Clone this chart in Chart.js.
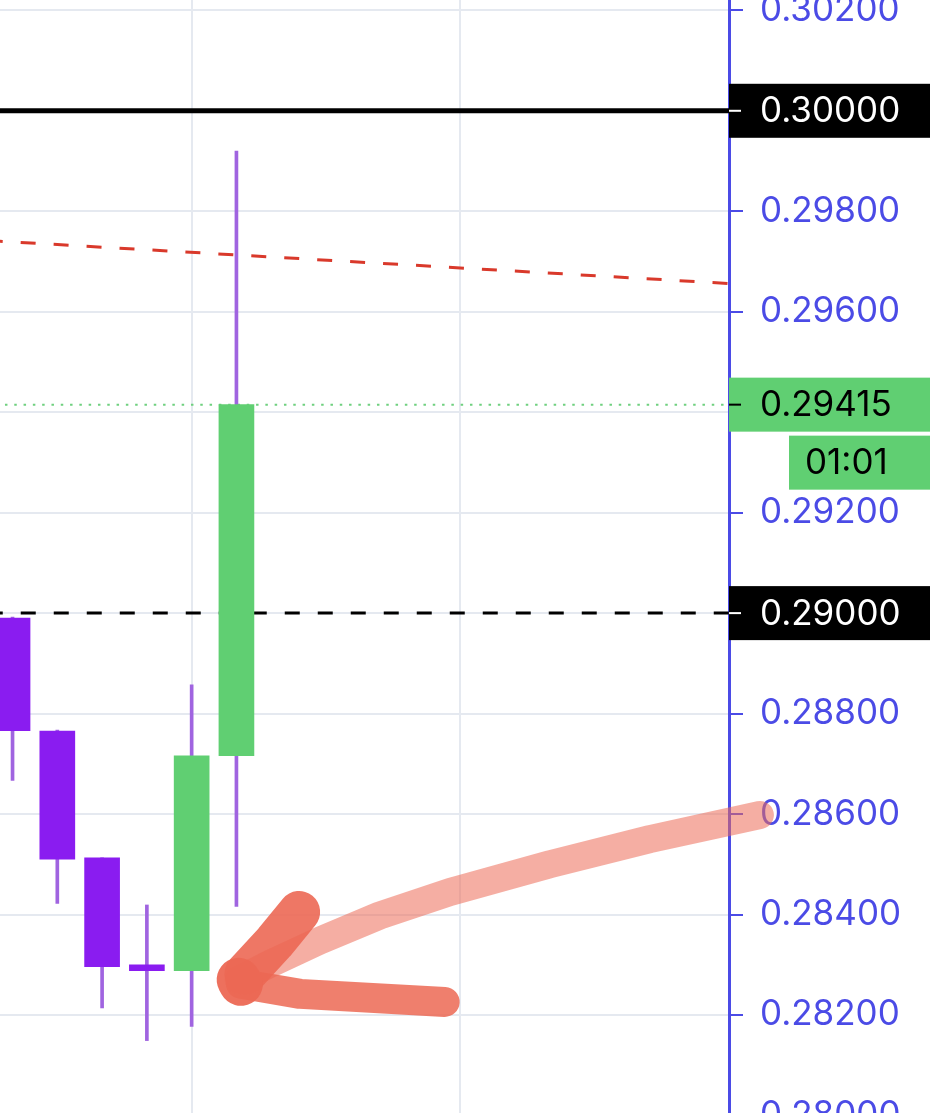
<!DOCTYPE html>
<html>
<head>
<meta charset="utf-8">
<script src="https://cdn.jsdelivr.net/npm/chart.js@4.4.0/dist/chart.umd.min.js"></script>
<style>
  html, body { margin: 0; padding: 0; background: #fff; overflow: hidden; }
  #wrap { position: absolute; left: 0; top: -60px; width: 933px; height: 1296px; }
</style>
</head>
<body>
<div id="wrap"><canvas id="chart" width="933" height="1296"></canvas></div>
<script>
// candles (index along the time axis)
const candleX = [0, 1, 2, 3, 4, 5];
const opens  = [0.28990, 0.28765, 0.28513, 0.28300, 0.28288, 0.28716];
const highs  = [0.28992, 0.28767, 0.28513, 0.28419, 0.28857, 0.29920];
const lows   = [0.28667, 0.28422, 0.28214, 0.28149, 0.28177, 0.28416];
const closes = [0.28766, 0.28510, 0.28296, 0.28288, 0.28716, 0.29415];

// drawn levels
const resistance = 0.30000;
const support = 0.29000;
const lastPrice = 0.29415;
const countdown = "01:01";
const trendX = [-1, 17];
const trendY = [0.29744, 0.29651];
const lineSpan = [-1, 17];

// hand drawn arrow, in (index, price)
const arrowShaft = [[16.69, 0.28598], [14.23, 0.28550], [12.0, 0.28500], [9.77, 0.28445],
                    [8.2, 0.28398], [6.86, 0.28348], [5.75, 0.28302], [5.05, 0.28270]];
const arrowUpper = [[6.4, 0.28405], [5.85, 0.28345], [5.2, 0.28282]];
const arrowLower = [[5.1, 0.28262], [6.42, 0.28242], [9.65, 0.28226]];

const upColor = "#60cf72";
const downColor = "#8a1cf0";
const wickColor = "#a064e0";
const axisBlue = "#4b4be6";
const tickFont = { family: "Inter", size: 35 };

const bodies = candleX.map((x, i) => ({ x: x, y: [opens[i], closes[i]] }));
const wicks = candleX.map((x, i) => ({ x: x, y: [lows[i], highs[i]] }));
const bodyColors = candleX.map((x, i) => closes[i] >= opens[i] ? upColor : downColor);

function flatLine(v) {
  return lineSpan.map(x => ({ x: x, y: v }));
}

function strokePath(ctx, pts, xs, ys, width, color) {
  ctx.beginPath();
  pts.forEach((p, i) => {
    const px = xs.getPixelForValue(p[0]);
    const py = ys.getPixelForValue(p[1]);
    if (i === 0) ctx.moveTo(px, py); else ctx.lineTo(px, py);
  });
  ctx.lineWidth = width;
  ctx.strokeStyle = color;
  ctx.lineCap = "round";
  ctx.lineJoin = "round";
  ctx.stroke();
}

const overlay = {
  id: "overlay",
  afterDraw(chart) {
    const { ctx, chartArea, scales: { x, y } } = chart;
    ctx.save();

    // arrow
    strokePath(ctx, arrowShaft, x, y, 28, "rgba(236,108,88,0.55)");
    strokePath(ctx, arrowLower, x, y, 30, "rgba(236,104,84,0.85)");
    strokePath(ctx, arrowUpper, x, y, 42, "rgba(236,104,84,0.9)");
    strokePath(ctx, [arrowShaft[7], arrowLower[0]], x, y, 44, "rgba(236,104,84,0.95)");

    // price tags
    const right = chart.width - 3;
    ctx.font = tickFont.size + "px " + tickFont.family;
    ctx.textBaseline = "middle";
    ctx.textAlign = "left";
    function tag(v, bg, fg, text) {
      const py = y.getPixelForValue(v);
      ctx.fillStyle = bg;
      ctx.fillRect(chartArea.right, py - 27, right - chartArea.right, 54);
      ctx.fillStyle = fg;
      ctx.fillRect(chartArea.right, py - 1, 12, 2);
      ctx.fillText(text, chartArea.right + 31, py + 1);
      return py;
    }
    tag(resistance, "#000", "#fff", resistance.toFixed(5));
    tag(support, "#000", "#fff", support.toFixed(5));
    const py = tag(lastPrice, upColor, "#000", lastPrice.toFixed(5));
    ctx.fillStyle = upColor;
    ctx.fillRect(chartArea.right + 60, py + 31, right - chartArea.right - 60, 54);
    ctx.fillStyle = "#000";
    ctx.fillText(countdown, chartArea.right + 76, py + 59);

    ctx.restore();
  }
};

new Chart(document.getElementById("chart"), {
  type: "bar",
  data: {
    datasets: [
      { label: "body", data: bodies, backgroundColor: bodyColors, barThickness: 35, grouped: false },
      { label: "wick", data: wicks, backgroundColor: wickColor, barThickness: 3, grouped: false },
      { type: "line", label: "trend", data: trendX.map((x, i) => ({ x: x, y: trendY[i] })),
        borderColor: "#d9392b", borderWidth: 3, borderDash: [15, 18], borderDashOffset: 13, pointRadius: 0 },
      { type: "line", label: "resistance", data: flatLine(resistance),
        borderColor: "#000", borderWidth: 5, pointRadius: 0 },
      { type: "line", label: "support", data: flatLine(support),
        borderColor: "#000", borderWidth: 3, borderDash: [15, 18], borderDashOffset: 13, pointRadius: 0 },
      { type: "line", label: "last", data: flatLine(lastPrice),
        borderColor: "#6fd07f", borderWidth: 2, borderDash: [2.5, 6.8], pointRadius: 0 }
    ]
  },
  options: {
    responsive: false,
    animation: false,
    layout: { padding: 0 },
    plugins: { legend: { display: false }, tooltip: { enabled: false } },
    scales: {
      x: {
        type: "linear",
        offset: false,
        min: -0.28,
        max: 16,
        afterBuildTicks: s => { s.ticks = [{ value: 4 }, { value: 10 }, { value: 16 }]; },
        afterFit: s => { s.height = 0; },
        ticks: { display: false },
        grid: { color: "#e5e9f0", lineWidth: 2, drawTicks: false, offset: false },
        border: { display: false }
      },
      y: {
        position: "right",
        min: 0.2776,
        max: 0.3034,
        afterFit: s => { s.width = 204; s.paddingTop = 0; s.paddingBottom = 0; },
        ticks: {
          stepSize: 0.002,
          includeBounds: false,
          padding: 17,
          color: axisBlue,
          font: tickFont,
          callback: v => v.toFixed(5)
        },
        grid: { color: "#e5e9f0", lineWidth: 2, tickColor: axisBlue, tickLength: 14, tickWidth: 2 },
        border: { color: axisBlue, width: 3 }
      }
    }
  },
  plugins: [overlay]
});
</script>
</body>
</html>
